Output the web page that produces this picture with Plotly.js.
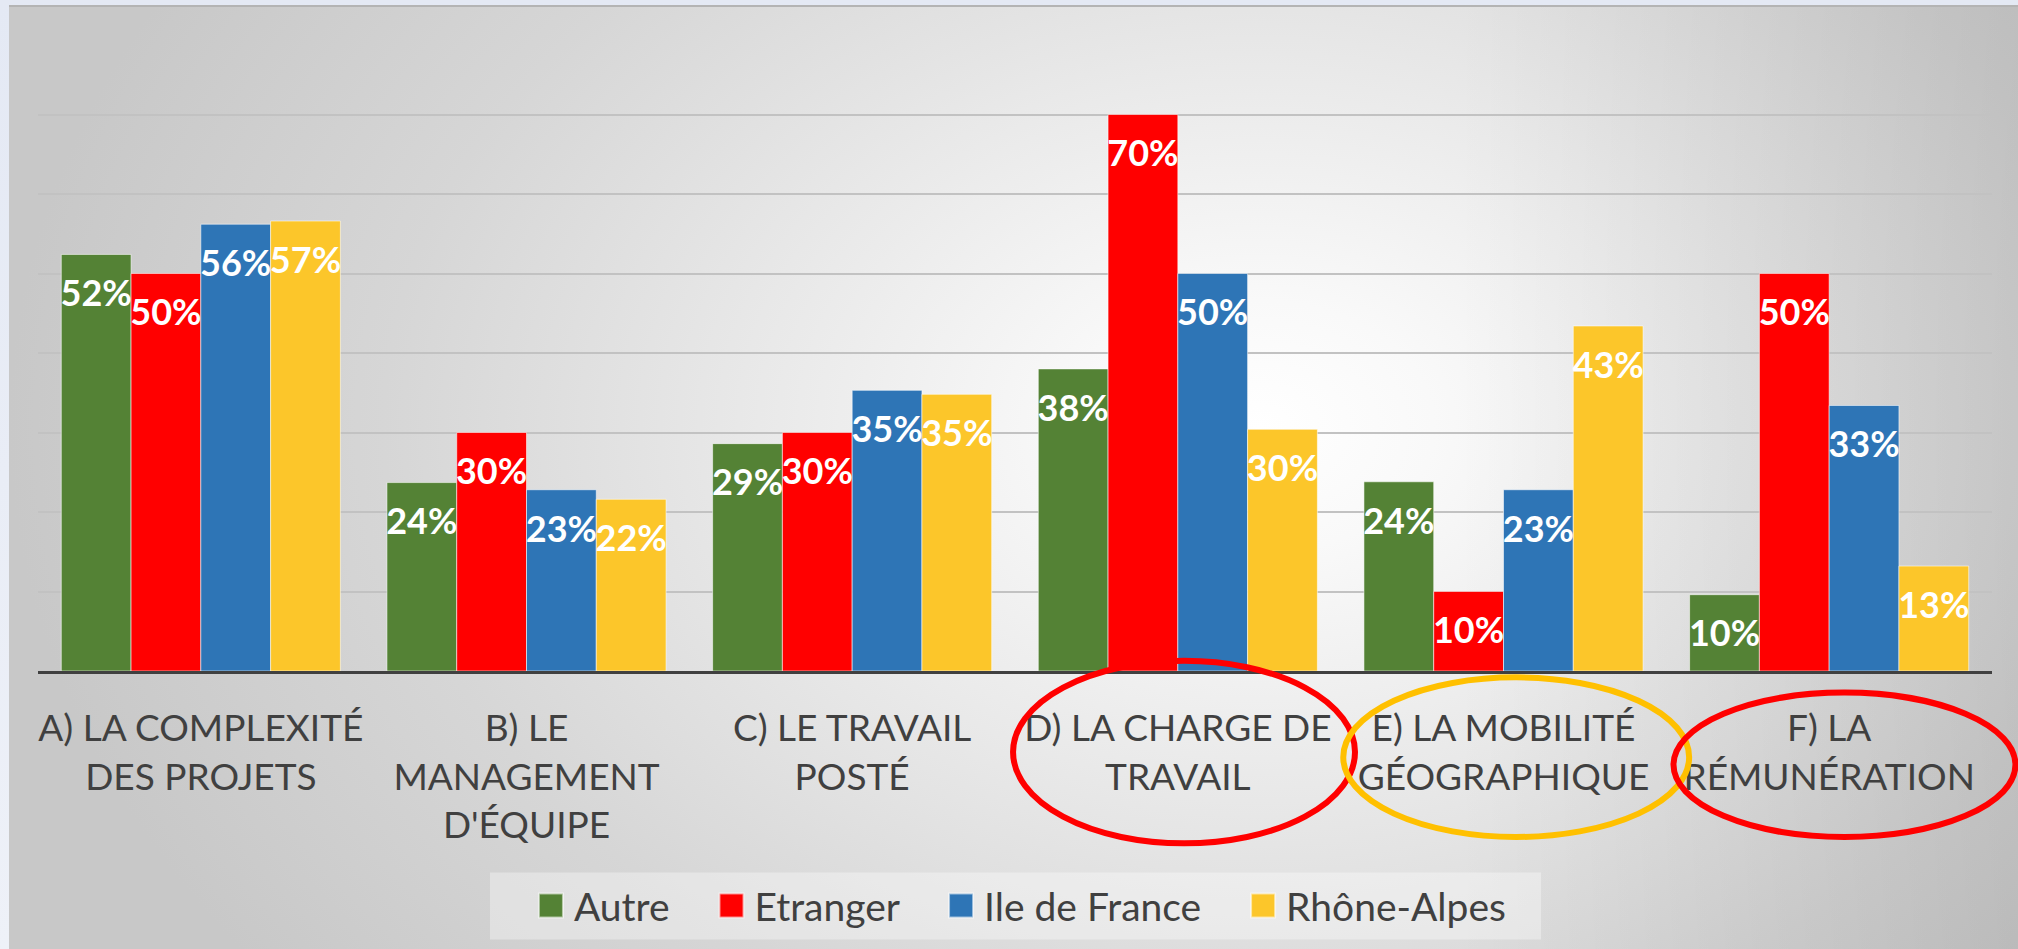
<!DOCTYPE html>
<html>
<head>
<meta charset="utf-8">
<script src="https://cdn.plot.ly/plotly-3.0.1.min.js"></script>
<style>
  html, body { margin:0; padding:0; width:2018px; height:949px; overflow:hidden;
    background: linear-gradient(180deg, #e4e9f4 0%, #eef1f8 100%); }
  #bg { position:absolute; left:9px; top:5px; width:2009px; height:944px;
    border-top:2px solid #b4b4b4; box-sizing:border-box;
    background:
      linear-gradient(90deg, rgba(0,0,0,0) 0%, rgba(0,0,0,0) 72%, rgba(0,0,0,0.10) 100%),
      radial-gradient(ellipse 1250px 900px at 1250px 420px, #ffffff 0%, #f9f9f9 14%, #e9e9e9 40%, #d6d6d6 70%, #c8c8c8 100%);
  }
  #chart { position:absolute; left:0; top:0; width:2018px; height:949px; }
  .legend .legendpoints path { transform: translate(17px, 0px) scale(2); }
</style>
</head>
<body>
<div id="bg"></div>
<div id="chart"></div>
<script>
const categories = [
  "A) LA COMPLEXITÉ<br>DES PROJETS",
  "B) LE<br>MANAGEMENT<br>D'ÉQUIPE",
  "C) LE TRAVAIL<br>POSTÉ",
  "D) LA CHARGE DE<br>TRAVAIL",
  "E) LA MOBILITÉ<br>GÉOGRAPHIQUE",
  "F) LA<br>RÉMUNÉRATION"
];
const seriesNames = ["Autre", "Etranger", "Ile de France", "Rhône-Alpes"];
const autre        = [52.4, 23.7, 28.6, 38.0, 23.8, 9.6];
const etranger     = [50.0, 30.0, 30.0, 70.0, 10.0, 50.0];
const ileDeFrance  = [56.2, 22.8, 35.3, 50.0, 22.8, 33.4];
const rhoneAlpes   = [56.6, 21.6, 34.8, 30.4, 43.4, 13.2];
const seriesValues = [autre, etranger, ileDeFrance, rhoneAlpes];
const seriesColors = ["#548235", "#ff0000", "#2e75b6", "#fcc62a"];

const FONT = "Lato, 'Open Sans', sans-serif";
const NB = "\u00a0";
// trailing non-breaking spaces give the legend entries their spacing
const legendPad = [NB.repeat(4), NB.repeat(4), NB.repeat(4), ""];

const traces = seriesNames.map((name, i) => ({
  type: "bar",
  name: name + legendPad[i],
  x: categories,
  y: seriesValues[i],
  marker: { color: seriesColors[i], line: { color: "rgba(255,255,255,0.55)", width: 1 } },
  texttemplate: "<span style='font-size:2px'>" + NB + "</span><br>%{y:.0f}%",
  textposition: "inside",
  insidetextanchor: "end",
  textangle: 0,
  constraintext: "none",
  insidetextfont: { family: FONT, size: 36, color: "#ffffff", weight: 700 },
  hoverinfo: "skip"
}));

const ellipse = (x0, x1, y0, y1, color) => ({
  type: "circle", xref: "paper", yref: "paper",
  x0: x0, x1: x1, y0: y0, y1: y1,
  line: { color: color, width: 6 }, layer: "above"
});

const layout = {
  width: 2018, height: 949,
  margin: { l: 38, r: 26, t: 35, b: 278, pad: 0 },
  paper_bgcolor: "rgba(0,0,0,0)",
  plot_bgcolor: "rgba(0,0,0,0)",
  barmode: "group",
  bargap: 0.143,
  bargroupgap: 0,
  showlegend: true,
  legend: {
    orientation: "h", x: 0.2538, xanchor: "left", y: -0.369, yanchor: "middle",
    font: { family: FONT, size: 39, color: "#404040" },
    bgcolor: "rgba(0,0,0,0)",
    traceorder: "normal"
  },
  xaxis: {
    type: "category",
    tickangle: 0,
    tickfont: { family: FONT, size: 37, color: "#404040" },
    ticks: "",
    ticklabelstandoff: 23,
    showline: true, linecolor: "#404040", linewidth: 3,
    showgrid: false, zeroline: false
  },
  yaxis: {
    range: [0, 80],
    dtick: 10,
    showticklabels: false,
    ticks: "",
    showgrid: true, gridcolor: "#c2c2c2", gridwidth: 2,
    zeroline: false, showline: false
  },
  shapes: [
    { type: "rect", xref: "paper", yref: "paper", x0: 0.2313, x1: 0.7692, y0: -0.4222, y1: -0.3168,
      fillcolor: "rgba(255,255,255,0.35)", line: { width: 0 }, layer: "below" },
    ellipse(0.499, 0.674, -0.271, 0.016, "#ff0000"),
    ellipse(0.668, 0.845, -0.261, -0.010, "#ffc000"),
    ellipse(0.837, 1.012, -0.261, -0.034, "#ff0000")
  ],
  hovermode: false
};

Plotly.newPlot("chart", traces, layout, { displayModeBar: false, staticPlot: true });
</script>
</body>
</html>
